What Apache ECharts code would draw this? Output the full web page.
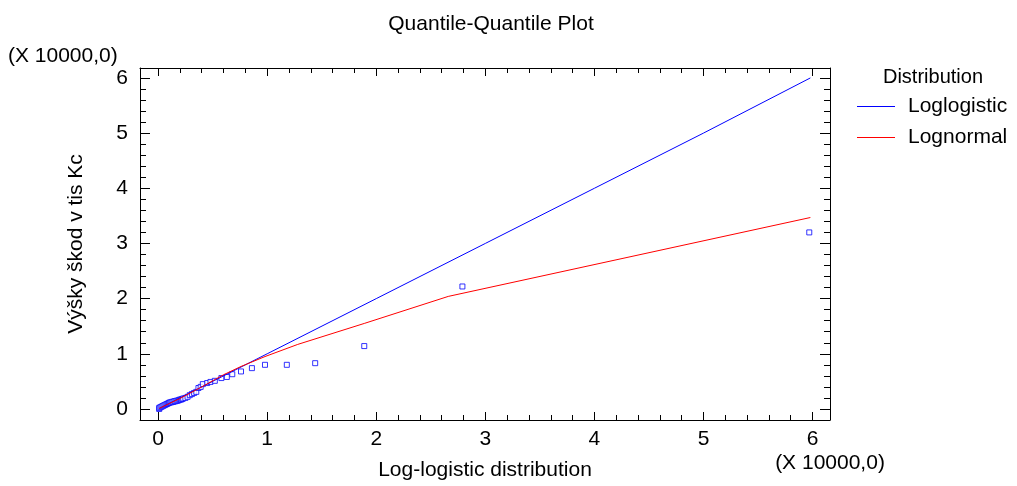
<!DOCTYPE html>
<html>
<head>
<meta charset="utf-8">
<script src="https://cdn.jsdelivr.net/npm/echarts@6.0.0/dist/echarts.min.js"></script>
<style>
  html, body { margin: 0; padding: 0; background: #fff; }
  #chart { width: 1017px; height: 486px; }
</style>
</head>
<body>
<div id="chart"></div>
<script>
// observed points (X 10000)
var obsX = [0.01, 0.01, 0.02, 0.03, 0.04, 0.05, 0.06, 0.07, 0.08, 0.09, 0.10, 0.11, 0.12, 0.13, 0.14,
            0.15, 0.16, 0.17, 0.18, 0.19, 0.20, 0.21, 0.22, 0.23, 0.25, 0.27, 0.29, 0.31, 0.33, 0.35,
            0.37, 0.39, 0.41, 0.45, 0.48, 0.52, 0.58, 0.63, 0.68, 0.76, 0.86, 0.98, 1.18, 1.44, 1.89,
            2.79, 5.97];
var obsY = [0.00, 0.02, 0.03, 0.04, 0.05, 0.06, 0.07, 0.08, 0.09, 0.10, 0.11, 0.12, 0.12, 0.13, 0.13,
            0.14, 0.14, 0.15, 0.15, 0.16, 0.17, 0.17, 0.18, 0.19, 0.20, 0.22, 0.25, 0.27, 0.29, 0.31,
            0.38, 0.40, 0.45, 0.47, 0.49, 0.51, 0.56, 0.58, 0.63, 0.68, 0.74, 0.80, 0.80, 0.83, 1.14,
            2.22, 3.20];

// fitted quantile lines
var loglogX = [0.01, 1.0, 2.0, 3.0, 4.0, 5.0, 5.98];
var loglogY = [0.01, 1.0, 2.0, 3.0, 4.0, 5.0, 6.0];
var lognormX = [0.01, 0.2, 0.4, 0.6, 0.76, 0.98, 1.28, 1.89, 2.66, 5.98];
var lognormY = [0.01, 0.19, 0.40, 0.62, 0.77, 0.95, 1.17, 1.55, 2.04, 3.47];

var seriesNames = ['Loglogistic', 'Lognormal'];
var majorTicks = [0, 1, 2, 3, 4, 5, 6];
var minorTicks = [];
for (var t = 0.2; t < 6; t += 0.2) minorTicks.push(Math.round(t * 10) / 10);

var xMin = -0.166, xMax = 6.16;
var yMin = -0.2, yMax = 6.18;
var font = 'Liberation Sans, Arial, sans-serif';

function pairs(xs, ys) {
    return xs.map(function (x, i) { return [x, ys[i]]; });
}

function axis(pos, min, max, ticks, len, isMain, extra) {
    var a = {
        type: 'value',
        position: pos,
        min: min,
        max: max,
        splitLine: { show: false },
        axisLine: { show: isMain, onZero: false, lineStyle: { color: '#000', width: 1 } },
        axisTick: { show: true, inside: true, length: len, customValues: ticks,
                    lineStyle: { color: '#000', width: 1 } },
        axisLabel: { show: false }
    };
    return Object.assign(a, extra || {});
}

var labelStyle = { fontFamily: font, fontSize: 21, color: '#000' };

var chart = echarts.init(document.getElementById('chart'));

var option = {
    animation: false,
    backgroundColor: '#fff',
    title: {
        text: 'Quantile-Quantile Plot',
        left: 486,
        top: 9,
        textAlign: 'center',
        textStyle: { fontFamily: font, fontSize: 21, fontWeight: 'normal', color: '#000' }
    },
    grid: { left: 140, top: 68, width: 690, height: 353, containLabel: false },
    legend: {
        data: seriesNames,
        orient: 'vertical',
        left: 857,
        top: 96,
        padding: 0,
        icon: 'rect',
        itemWidth: 38,
        itemHeight: 1,
        itemGap: 10,
        textStyle: { fontFamily: font, fontSize: 21, color: '#000', lineHeight: 21,
                     padding: [0, 0, 0, 8] }
    },
    xAxis: [
        axis('bottom', xMin, xMax, majorTicks, 8, true, {
            axisLabel: Object.assign({ show: true, margin: 9, customValues: majorTicks }, labelStyle),
            name: 'Log-logistic distribution',
            nameLocation: 'middle',
            nameGap: 40,
            nameTextStyle: { fontFamily: font, fontSize: 21, color: '#000' }
        }),
        axis('bottom', xMin, xMax, minorTicks, 5, false),
        axis('top', xMin, xMax, majorTicks, 8, true),
        axis('top', xMin, xMax, minorTicks, 5, false)
    ],
    yAxis: [
        axis('left', yMin, yMax, majorTicks, 10, true, {
            axisLabel: Object.assign({ show: true, margin: 12, customValues: majorTicks }, labelStyle),
            name: 'Výšky škod v tis Kc',
            nameLocation: 'middle',
            nameGap: 53,
            nameTextStyle: { fontFamily: font, fontSize: 21, color: '#000' }
        }),
        axis('left', yMin, yMax, minorTicks, 6, false),
        axis('right', yMin, yMax, majorTicks, 10, true),
        axis('right', yMin, yMax, minorTicks, 6, false)
    ],
    graphic: [
        { type: 'text', left: 8, top: 46,
          style: { text: '(X 10000,0)', font: '21px ' + font, fill: '#000' } },
        { type: 'text', x: 830, y: 463,
          style: { text: '(X 10000,0)', font: '21px ' + font, fill: '#000',
                   textAlign: 'center', textVerticalAlign: 'middle' } },
        { type: 'text', x: 933, y: 77,
          style: { text: 'Distribution', font: '20px ' + font, fill: '#000',
                   textAlign: 'center', textVerticalAlign: 'middle' } }
    ],
    series: [
        {
            name: 'Observed',
            type: 'scatter',
            xAxisIndex: 0,
            yAxisIndex: 0,
            symbol: 'rect',
            symbolSize: 5,
            itemStyle: { color: '#fff', borderColor: '#0000ff', borderWidth: 1 },
            data: pairs(obsX, obsY),
            z: 2
        },
        {
            name: seriesNames[0],
            type: 'line',
            symbol: 'none',
            lineStyle: { color: '#0000ff', width: 1 },
            itemStyle: { color: '#0000ff' },
            data: pairs(loglogX, loglogY),
            z: 3
        },
        {
            name: seriesNames[1],
            type: 'line',
            symbol: 'none',
            lineStyle: { color: '#ff0000', width: 1 },
            itemStyle: { color: '#ff0000' },
            data: pairs(lognormX, lognormY),
            z: 3
        }
    ]
};

chart.setOption(option);
</script>
</body>
</html>
